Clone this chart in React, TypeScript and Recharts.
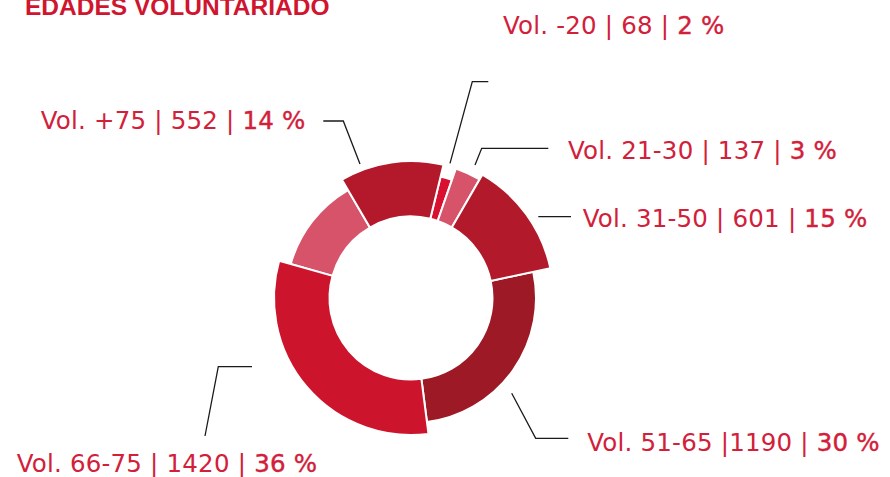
import React from 'react';
import { PieChart, Pie, Cell } from 'recharts';

// ---- data ----
const categories = ['-20', '21-30', '31-50', '51-65', '66-75', '', '+75'];
const volunteers = [68, 137, 601, 1190, 1420, 552, 552];
const percents = ['2 %', '3 %', '15 %', '30 %', '36 %', '', '14 %'];
const labelTexts = [
  'Vol. -20 | 68 | ',
  'Vol. 21-30 | 137 | ',
  'Vol. 31-50 | 601 | ',
  'Vol. 51-65 |1190 | ',
  'Vol. 66-75 | 1420 | ',
  '',
  'Vol. +75 | 552 | ',
];
const title = 'EDADES VOLUNTARIADO';

// ---- styling ----
const colors = ['#DA1030', '#D6536A', '#B21A2C', '#9D1926', '#CC152D', '#D6536A', '#B3192B'];
const radiusGroup = [0, 1, 2, 0, 1, 0, 1];
const outerRadii = [125, 137, 142.5];
const INNER = 81.5;
const CX = 411;
const CY = 298;
const START = 76.3;
const TEXT_RED = '#D2203A';

type LeaderLayout = {
  pts: number[][];
  tx: number;
  ty: number;
  anchor: 'start' | 'end';
} | null;

const leaderLayout: LeaderLayout[] = [
  { pts: [[39, -134.7], [61.3, -216.3], [77.3, -216.3]], tx: 92, ty: -263.7, anchor: 'start' },
  { pts: [[64, -133], [70.7, -149.7], [137.3, -149.7]], tx: 157, ty: -138.7, anchor: 'start' },
  { pts: [[127.3, -81.3], [160, -81.3]], tx: 171.7, ty: -71.3, anchor: 'start' },
  { pts: [[100.7, 95.3], [124.7, 140.3], [157.3, 140.3]], tx: 176.3, ty: 152.7, anchor: 'start' },
  { pts: [[-159, 68.7], [-192.7, 68.7], [-206, 138]], tx: -394.3, ty: 173.7, anchor: 'start' },
  null,
  { pts: [[-51, -134], [-67.7, -177], [-87.7, -177]], tx: -105.5, ty: -168.7, anchor: 'end' },
];

const data = categories.map((c, i) => ({ name: c, value: volunteers[i] }));

const renderLabel = (props: any) => {
  const i = props.index;
  const l = leaderLayout[i];
  if (!l) return null;
  const points = l.pts.map((p) => `${CX + p[0]},${CY + p[1]}`).join(' ');
  return (
    <g key={`lbl-${i}`}>
      <polyline points={points} fill="none" stroke="#1a1a1a" strokeWidth={1.3} />
      <text
        x={CX + l.tx}
        y={CY + l.ty}
        textAnchor={l.anchor}
        fontFamily="'DejaVu Sans', sans-serif"
        fontSize={24.5}
        letterSpacing={0.2}
        fill={TEXT_RED}
      >
        <tspan>{labelTexts[i]}</tspan>
        <tspan stroke={TEXT_RED} strokeWidth={0.4}>{percents[i]}</tspan>
      </text>
    </g>
  );
};

export default function App() {
  return (
    <div style={{ position: 'absolute', left: 0, top: 0, width: 890, height: 477 }}>
      <PieChart width={890} height={477} margin={{ top: 0, right: 0, bottom: 0, left: 0 }}>
        {outerRadii.map((r, g) => (
          <Pie
            key={`pie-${g}`}
            data={data}
            dataKey="value"
            nameKey="name"
            cx={CX}
            cy={CY}
            innerRadius={INNER}
            outerRadius={r}
            startAngle={START}
            endAngle={START - 360}
            isAnimationActive={false}
            label={g === 2 ? renderLabel : false}
            labelLine={false}
          >
            {data.map((d, i) => (
              <Cell
                key={`c-${g}-${i}`}
                fill={radiusGroup[i] === g ? colors[i] : 'none'}
                stroke={radiusGroup[i] === g ? '#ffffff' : 'none'}
                strokeWidth={2}
              />
            ))}
          </Pie>
        ))}
      </PieChart>
      <svg
        width={890}
        height={40}
        style={{ position: 'absolute', left: 0, top: 0, pointerEvents: 'none' }}
      >
        <text
          x={25}
          y={15}
          fontFamily="'Liberation Sans', Arial, sans-serif"
          fontWeight={700}
          fontSize={24.5}
          fill="#D0152F"
        >
          {title}
        </text>
      </svg>
    </div>
  );
}
